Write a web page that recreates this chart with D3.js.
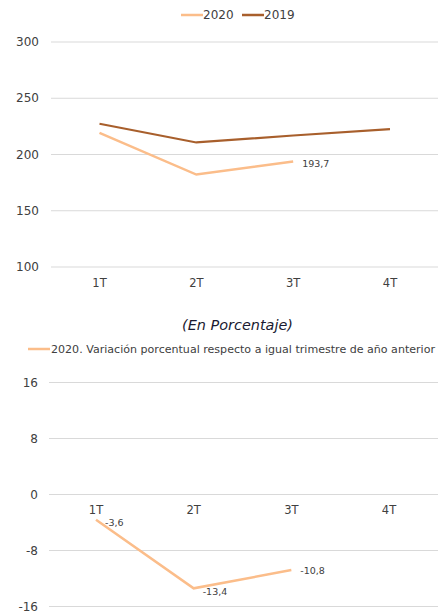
<!DOCTYPE html>
<html><head><meta charset="utf-8">
<script src="https://cdn.jsdelivr.net/npm/d3@7"></script>
<style>
body{margin:0;background:#fff;}
</style></head>
<body><svg id="c" width="438" height="612" font-family="Verdana, 'DejaVu Sans', sans-serif"></svg>
<script>
const categories = ["1T","2T","3T","4T"];
const values2020 = [219.3, 182.2, 193.7];
const values2019 = [227.3, 210.7, 216.9, 222.5];
const topTicks = [100,150,200,250,300];
const label2020 = "193,7";

const variation2020 = [-3.6, -13.4, -10.8];
const variationLabels = ["-3,6","-13,4","-10,8"];
const bottomTicks = [-16,-8,0,8,16];

const c2020 = "#FBBD8A", c2019 = "#A85F2C", grid = "#D9D9D9", txt = "#404040";
const svg = d3.select("#c");
const T = (sel) => sel.attr("fill", txt);

// ---- Top chart ----
const x1 = d3.scalePoint().domain(categories).range([99.5, 390]);
const y1 = d3.scaleLinear().domain([100,300]).range([267, 42]);
const g1 = svg.append("g");
g1.selectAll("line.grid").data(topTicks).join("line")
  .attr("x1",51).attr("x2",438).attr("y1",d=>y1(d)).attr("y2",d=>y1(d))
  .attr("stroke",grid).attr("stroke-width",1);
T(g1.selectAll("text.yt").data(topTicks).join("text")
  .attr("x",39).attr("y",d=>y1(d)).attr("dy","0.35em").attr("text-anchor","end")
  .attr("font-size",12).text(d=>d));
T(g1.selectAll("text.xt").data(categories).join("text")
  .attr("x",d=>x1(d)).attr("y",283).attr("dy","0.35em").attr("text-anchor","middle")
  .attr("font-size",11.5).text(d=>d));
const line1 = d3.line().x((d,i)=>x1(categories[i])).y(d=>y1(d));
g1.append("path").datum(values2019).attr("d",line1).attr("fill","none")
  .attr("stroke",c2019).attr("stroke-width",2.2);
g1.append("path").datum(values2020).attr("d",line1).attr("fill","none")
  .attr("stroke",c2020).attr("stroke-width",2.5);
T(g1.append("text").attr("x",x1(categories[2])+9).attr("y",y1(values2020[2])+2)
  .attr("dy","0.35em").attr("font-size",9.5).text(label2020));
// legend
const lg = svg.append("g");
lg.append("line").attr("x1",181).attr("x2",203).attr("y1",15).attr("y2",15).attr("stroke",c2020).attr("stroke-width",2.5);
T(lg.append("text").attr("x",203).attr("y",15).attr("dy","0.35em").attr("font-size",12).text("2020"));
lg.append("line").attr("x1",242).attr("x2",264).attr("y1",15).attr("y2",15).attr("stroke",c2019).attr("stroke-width",2.5);
T(lg.append("text").attr("x",264).attr("y",15).attr("dy","0.35em").attr("font-size",12).text("2019"));

// ---- Bottom chart ----
svg.append("text").attr("x",182).attr("y",325).attr("dy","0.35em")
  .attr("font-size",13.5).attr("font-style","italic")
  .attr("textLength",111).attr("lengthAdjust","spacingAndGlyphs")
  .attr("fill","#1A1A30").text("(En Porcentaje)");
svg.append("line").attr("x1",28).attr("x2",50).attr("y1",349).attr("y2",349).attr("stroke",c2020).attr("stroke-width",2.5);
T(svg.append("text").attr("x",51).attr("y",349).attr("dy","0.35em").attr("font-size",11)
  .attr("textLength",384).attr("lengthAdjust","spacingAndGlyphs")
  .text("2020. Variación porcentual respecto a igual trimestre de año anterior"));

const x2 = d3.scalePoint().domain(categories).range([96, 389]);
const y2 = d3.scaleLinear().domain([-16,16]).range([606.5, 382.5]);
const g2 = svg.append("g");
g2.selectAll("line.grid").data(bottomTicks).join("line")
  .attr("x1",49).attr("x2",438).attr("y1",d=>y2(d)).attr("y2",d=>y2(d))
  .attr("stroke",grid).attr("stroke-width",1);
T(g2.selectAll("text.yt").data(bottomTicks).join("text")
  .attr("x",38).attr("y",d=>y2(d)).attr("dy","0.35em").attr("text-anchor","end")
  .attr("font-size",12).text(d=>d));
T(g2.selectAll("text.xt").data(categories).join("text")
  .attr("x",d=>x2(d)).attr("y",510).attr("dy","0.35em").attr("text-anchor","middle")
  .attr("font-size",11.5).text(d=>d));
const line2 = d3.line().x((d,i)=>x2(categories[i])).y(d=>y2(d));
g2.append("path").datum(variation2020).attr("d",line2).attr("fill","none")
  .attr("stroke",c2020).attr("stroke-width",2.5);
T(g2.selectAll("text.dl").data(variation2020).join("text")
  .attr("x",(d,i)=>x2(categories[i])+9).attr("y",(d,i)=>y2(d)+ (i===2?1:3))
  .attr("dy","0.35em").attr("font-size",9.5).text((d,i)=>variationLabels[i]));
</script></body></html>
